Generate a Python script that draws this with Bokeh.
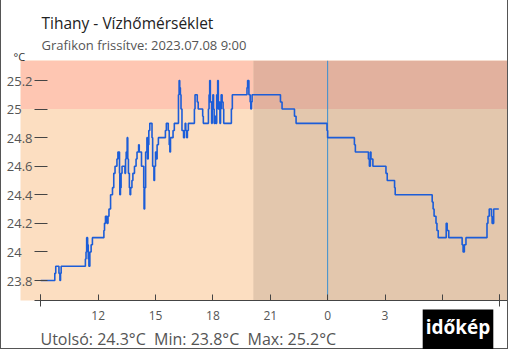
from bokeh.plotting import figure
from bokeh.layouts import column
from bokeh.models import BoxAnnotation, Span, Label, FixedTicker, Range1d
from bokeh.embed import file_html
from bokeh.resources import INLINE

# ---------------- data ----------------
title_text = "Tihany - Vízhőmérséklet"
subtitle_text = "Grafikon frissítve: 2023.07.08 9:00"
unit_text = "°C"
footer_text = "Utolsó: 24.3°C\u00a0\u00a0Min: 23.8°C\u00a0\u00a0Max: 25.2°C"
logo_text = "időkép"

start_hour = 9  # 2023-07-07 09:00
# minutes after start, water temperature (°C)
minutes = [0, 44, 47, 57, 60, 62, 64, 140, 142, 144, 147, 149, 151, 154, 158, 162,
           198, 200, 203, 208, 211, 214, 219, 225, 229, 233, 239, 242, 247, 248, 250,
           252, 255, 264, 266, 268, 271, 273, 275, 278, 280, 282, 286, 289, 294, 299,
           302, 307, 309, 316, 323, 324, 326, 329, 333, 335, 337, 339, 342, 349, 351,
           355, 357, 360, 363, 365, 369, 391, 394, 400, 403, 405, 407, 415, 419, 432,
           434, 436, 438, 440, 443, 448, 451, 453, 455, 458, 460, 463, 482, 484, 491,
           494, 508, 510, 526, 528, 530, 532, 536, 538, 540, 542, 544, 546, 549, 552,
           555, 557, 560, 562, 564, 566, 569, 572, 574, 598, 601, 647, 649, 653, 657,
           659, 661, 663, 752, 757, 796, 801, 898, 900, 984, 987, 1028, 1031, 1034,
           1036, 1042, 1083, 1087, 1110, 1112, 1228, 1231, 1234, 1240, 1243, 1247,
           1272, 1275, 1280, 1322, 1325, 1329, 1334, 1400, 1403, 1407, 1414, 1416,
           1421, 1437]
temps = [23.8, 23.85, 23.9, 23.85, 23.8, 23.85, 23.9, 23.95, 24.0, 24.1, 24.05, 23.95,
         23.9, 24.0, 24.05, 24.1, 24.15, 24.2, 24.25, 24.2, 24.25, 24.3, 24.4, 24.45,
         24.55, 24.6, 24.65, 24.7, 24.55, 24.4, 24.45, 24.55, 24.6, 24.55, 24.65, 24.7,
         24.8, 24.65, 24.55, 24.45, 24.4, 24.45, 24.5, 24.55, 24.6, 24.65, 24.7, 24.75,
         24.7, 24.6, 24.45, 24.3, 24.45, 24.7, 24.8, 24.65, 24.75, 24.85, 24.9, 24.8,
         24.6, 24.5, 24.6, 24.7, 24.65, 24.75, 24.8, 24.85, 24.9, 24.85, 24.75, 24.7,
         24.8, 24.85, 24.9, 25.1, 25.2, 25.15, 25.1, 25.0, 24.85, 24.8, 24.85, 24.9,
         24.85, 24.8, 24.85, 24.9, 25.0, 25.1, 25.05, 25.0, 24.95, 24.9, 25.0, 25.1,
         25.2, 25.05, 24.9, 25.05, 25.1, 25.0, 24.9, 24.95, 24.9, 25.1, 25.2, 25.0,
         25.05, 24.9, 25.0, 25.1, 25.05, 25.0, 24.9, 25.0, 25.1, 25.15, 25.2, 25.1,
         25.05, 25.0, 25.05, 25.1, 25.05, 25.0, 24.95, 24.9, 24.85, 24.8, 24.75, 24.7,
         24.65, 24.6, 24.7, 24.65, 24.6, 24.55, 24.5, 24.45, 24.4, 24.35, 24.3, 24.25,
         24.2, 24.15, 24.1, 24.2, 24.15, 24.1, 24.05, 24.0, 24.05, 24.1, 24.2, 24.25,
         24.3, 24.25, 24.2, 24.3, 24.3]
hours = [start_hour + m / 60 for m in minutes]

x_ticks = [9, 12, 15, 18, 21, 24, 27, 30, 33]
x_tick_labels = ["", "12", "15", "18", "21", "0", "3", "6", ""]
day_ticks = [9, 33]
y_ticks = [23.8, 24.0, 24.2, 24.4, 24.6, 24.8, 25.0, 25.2]
y_tick_labels = ["23.8", "24\u2008\u2007", "24.2", "24.4", "24.6", "24.8",
                 "25\u2008\u2007", "25.2"]

threshold = 25.0
night_start = 20 + 7 / 60
midnight = 24
x_start, x_end = 7.94, 33.51
x_axis_from = 8.67
y_start, y_end = 23.66, 25.34

# ---------------- styles ----------------
FONT = "Open Sans"
c_day_low = "#fcdec1"
c_day_high = "#fec6b2"
c_night_low = "#e3c7ad"
c_night_high = "#e2b19e"
c_line = "#1c5dd8"
c_axis = "#444444"
c_text = "#555555"

p = figure(width=508, height=349,
           x_range=Range1d(x_start, x_end), y_range=Range1d(y_start, y_end),
           output_backend="svg", toolbar_location=None,
           min_border_left=19, min_border_right=0,
           min_border_top=60, min_border_bottom=49)
p.styles = {"border-left": "1px solid #555", "border-right": "1px solid #555",
            "border-bottom": "1px solid #555"}
p.grid.visible = False
p.outline_line_color = None
p.background_fill_color = c_day_low
p.border_fill_color = "white"

p.add_layout(BoxAnnotation(bottom=threshold, right=night_start, fill_color=c_day_high,
                           fill_alpha=1, line_color=None, level="underlay"))
p.add_layout(BoxAnnotation(top=threshold, left=night_start, fill_color=c_night_low,
                           fill_alpha=1, line_color=None, level="underlay"))
p.add_layout(BoxAnnotation(bottom=threshold, left=night_start, fill_color=c_night_high,
                           fill_alpha=1, line_color=None, level="underlay"))
p.add_layout(Span(location=midnight, dimension="height", line_color="#3a8fd0",
                  line_width=1, level="underlay"))

p.step(hours, temps, mode="after", line_color=c_line, line_width=1.6)

xa = p.xaxis[0]
xa.ticker = FixedTicker(ticks=x_ticks, minor_ticks=day_ticks)
xa.major_label_overrides = {t: l for t, l in zip(x_ticks, x_tick_labels)}
xa.bounds = (x_axis_from, x_end)
xa.major_tick_in = 6
xa.major_tick_out = 0
xa.minor_tick_in = 6
xa.minor_tick_out = 6
xa.axis_line_color = c_axis
xa.major_tick_line_color = c_axis
xa.minor_tick_line_color = c_axis
xa.major_label_standoff = 4
xa.major_label_text_font = FONT
xa.major_label_text_font_size = "12px"
xa.major_label_text_color = c_text

ya = p.yaxis[0]
ya.ticker = FixedTicker(ticks=y_ticks)
ya.major_label_overrides = {t: l for t, l in zip(y_ticks, y_tick_labels)}
ya.axis_line_color = None
ya.major_tick_in = 27
ya.major_tick_out = -14
ya.major_label_standoff = -12
ya.major_tick_line_color = c_axis
ya.minor_tick_line_color = None
ya.major_label_text_font = FONT
ya.major_label_text_font_size = "13px"
ya.major_label_text_color = c_text

# texts above the plot area: side panels (not clipped), canvas coordinates
p.add_layout(Label(x=11, y=56, x_units="canvas", y_units="canvas", text=unit_text,
                   text_font=FONT, text_font_size="11px", text_color="#333333",
                   text_baseline="alphabetic"), "above")
p.add_layout(Label(x=39, y=44.5, x_units="canvas", y_units="canvas", text=subtitle_text,
                   text_font=FONT, text_font_size="13px", text_color=c_text,
                   text_baseline="alphabetic"), "above")
p.add_layout(Label(x=39, y=22, x_units="canvas", y_units="canvas", text=title_text,
                   text_font=FONT, text_font_size="15.5px", text_color="#222222",
                   text_baseline="alphabetic"), "above")

# footer strip laid over the bottom of the chart (transparent)
fb = figure(width=508, height=40, x_range=Range1d(0, 1), y_range=Range1d(0, 1),
            output_backend="svg", toolbar_location=None,
            x_axis_type=None, y_axis_type=None,
            min_border=0, min_border_left=0, min_border_right=0,
            min_border_top=0, min_border_bottom=0)
fb.grid.visible = False
fb.outline_line_color = None
fb.background_fill_alpha = 0
fb.border_fill_alpha = 0
fb.margin = (-40, 0, 0, 0)
fb.add_layout(Label(x=40, y=29.3, x_units="canvas", y_units="canvas", text=footer_text,
                    text_font=FONT, text_font_size="16px", text_color=c_text,
                    text_baseline="alphabetic"))
fb.add_layout(Label(x=457.5, y=17.5, x_units="canvas", y_units="canvas", text=logo_text,
                    text_font=FONT, text_font_size="19px", text_font_style="bold",
                    text_color="white", text_align="center", text_baseline="middle",
                    background_fill_color="black", background_fill_alpha=1,
                    padding=(3, 16)))

layout = column(p, fb, spacing=0)
open("out.html", "w").write(file_html(layout, INLINE))
